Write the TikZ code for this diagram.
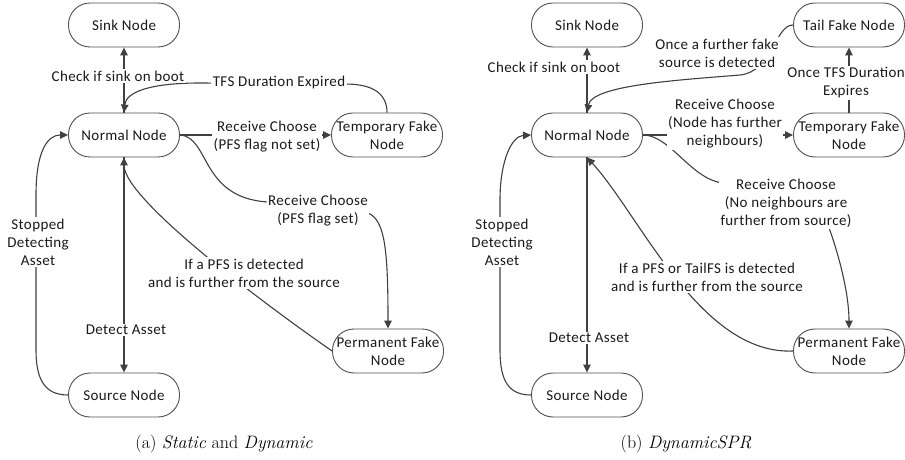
\documentclass[tikz,border=0pt]{standalone}
\usepackage{fontspec}
\newfontfamily\diagfont[LetterSpace=2.5]{Carlito}
\usetikzlibrary{arrows.meta}
\definecolor{linec}{HTML}{404040}
\definecolor{boxc}{HTML}{505050}
\definecolor{textc}{HTML}{1A1A1A}
\tikzset{
  box/.style={draw=boxc, line width=0.9bp, rectangle, rounded corners=21.5bp,
    minimum width=111bp, minimum height=44bp, inner sep=0pt, align=center,
    text=textc, font={\diagfont\fontsize{15bp}{18bp}\selectfont}},
  lbl/.style={fill=white, inner sep=1.5bp, align=center, text=textc,
    font={\diagfont\fontsize{15bp}{18bp}\selectfont}},
  arr/.style={draw=linec, line width=1.1bp, -{Triangle[length=8bp,width=7.5bp]}},
  capt/.style={anchor=base, text=black, font={\fontsize{18bp}{21bp}\selectfont}}
}
\begin{document}
\begin{tikzpicture}[x=1bp,y=-1bp]
\useasboundingbox (0,0) rectangle (905,460);
\fill[white] (0,0) rectangle (905,460);
% ---------- left diagram ----------
\node[box] (sinkA) at (124,25) {Sink Node};
\node[box] (normA) at (124,135) {Normal Node};
\node[box] (tfsA) at (387,135) {Temporary Fake\\Node};
\node[box] (pfsA) at (388,351) {Permanent Fake\\Node};
\node[box] (srcA) at (124,395) {Source Node};
\draw[arr] (normA.north) -- (sinkA.south);
\draw[arr] (tfsA.north) .. controls (387,95) and (375,84) .. (345,84) -- (200,83)
  .. controls (150,83) and (126,92) .. (normA.north);
\draw[arr] (normA.east) -- (tfsA.west);
\draw[arr] (normA.east) .. controls (210,137) and (200,198) .. (268,202) -- (368,213)
  .. controls (385,220) and (388,250) .. (pfsA.north);
\draw[arr] (pfsA.west) .. controls (270,308) and (124,200) .. (normA.south);
\draw[arr] (srcA.west) .. controls (45,395) and (36,380) .. (36,350) -- (36,195)
  .. controls (36,150) and (48,135) .. (normA.west);
\draw[arr] (normA.south) -- (srcA.north);
\node[lbl] (lA1) at (118,76) {Check if sink on boot};
\node[lbl] (lA2) at (279,83) {TFS Duration Expired};
\node[lbl] (lA3) at (267,137) {Receive Choose\\(PFS flag not set)};
\node[lbl] (lA4) at (318,211) {Receive Choose\\(PFS flag set)};
\node[lbl] (lA5) at (244,273) {If a PFS is detected\\and is further from the source};
\node[lbl] (lA6) at (38,242) {Stopped\\Detecting\\Asset};
\node[lbl] (lA7) at (126,330) {Detect Asset};
% ---------- right diagram ----------
\node[box] (sinkB) at (587,25) {Sink Node};
\node[box] (normB) at (587,135) {Normal Node};
\node[box] (tailB) at (849,25) {Tail Fake Node};
\node[box] (tfsB) at (849,135) {Temporary Fake\\Node};
\node[box] (pfsB) at (849,351) {Permanent Fake\\Node};
\node[box] (srcB) at (587,395) {Source Node};
\draw[arr] (normB.north) -- (sinkB.south);
\draw[arr] (tailB.west) .. controls (775,25) and (772,72) .. (740,75)
  .. controls (680,80) and (592,85) .. (normB.north);
\draw[arr] (normB.east) -- (tfsB.west);
\draw[arr] (tfsB.north) -- (tailB.south);
\draw[arr] (normB.east) .. controls (670,135) and (690,178) .. (722,183) -- (826,220)
  .. controls (836,245) and (849,290) .. (pfsB.north);
\draw[arr] (pfsB.west) .. controls (700,355) and (640,215) .. (normB.south);
\draw[arr] (srcB.west) .. controls (508,395) and (500,380) .. (500,350) -- (500,200)
  .. controls (500,160) and (512,136) .. (normB.west);
\draw[arr] (normB.south) -- (srcB.north);
\node[lbl] (lB1) at (554,67) {Check if sink on boot};
\node[lbl] (lB2) at (717,53) {Once a further fake\\source is detected};
\node[lbl] (lB3) at (725,124) {Receive Choose\\(Node has further\\neighbours)};
\node[lbl] (lB4) at (846,83) {Once TFS Duration\\Expires};
\node[lbl] (lB5) at (786,203) {Receive Choose\\(No neighbours are\\further from source)};
\node[lbl] (lB6) at (707,277) {If a PFS or TailFS is detected\\and is further from the source};
\node[lbl] (lB7) at (502,242) {Stopped\\Detecting\\Asset};
\node[lbl] (lB8) at (589,338) {Detect Asset};
% ---------- captions ----------
\node[capt] (capA) at (224,448) {(a) \textit{Static} and \textit{Dynamic}};
\node[capt] (capB) at (686,448) {(b) \textit{DynamicSPR}};
\end{tikzpicture}
\end{document}
